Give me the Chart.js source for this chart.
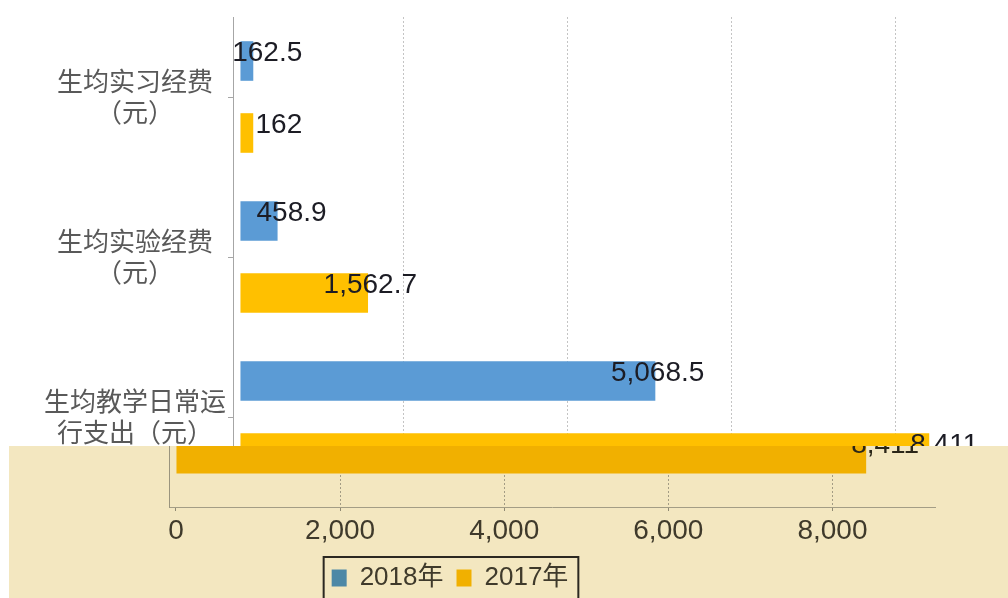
<!DOCTYPE html>
<html>
<head>
<meta charset="utf-8">
<script src="https://cdn.jsdelivr.net/npm/chart.js@4/dist/chart.umd.min.js"></script>
<style>
    body { margin: 0; background: #fff; width: 1008px; height: 598px; overflow: hidden; }
    #topPane { position: absolute; left: 0; top: 0; width: 1008px; height: 446px; overflow: hidden; background: #fff; }
    #bottomPane { position: absolute; left: 9px; top: 446px; width: 999px; height: 152px; overflow: hidden; background: #f3e7c0; }
    #bottomChart { position: absolute; left: -44px; top: -446px; }
</style>
</head>
<body>
<div id="topPane"><canvas id="topChart" width="1008" height="598"></canvas></div>
<div id="bottomPane"><canvas id="bottomChart" width="1043" height="601"></canvas></div>
<script>
/* ========================================
   Per-student funding, 2018 vs 2017
   ======================================== */

const categories = [
    ['生均实习经费', '（元）'],
    ['生均实验经费', '（元）'],
    ['生均教学日常运', '行支出（元）']
];
const seriesNames = ['2018年', '2017年'];
const values2018 = [162.5, 458.9, 5068.5];
const values2017 = [162, 1562.7, 8411];
const xTicks = [0, 2000, 4000, 6000, 8000];

const LATIN = "'Liberation Sans', 'Noto Sans CJK SC', sans-serif";
const CJK = "'Noto Sans CJK SC', sans-serif";

function fmt(v) {
    return v.toLocaleString('en-US', { maximumFractionDigits: 1 });
}

// value labels, right aligned a bit past the end of each bar
const barLabels = {
    id: 'barLabels',
    afterDatasetsDraw(chart, args, opts) {
        const ctx = chart.ctx;
        ctx.save();
        ctx.font = opts.font;
        ctx.fillStyle = opts.color;
        ctx.textAlign = 'right';
        ctx.textBaseline = 'middle';
        chart.data.datasets.forEach((ds, i) => {
            chart.getDatasetMeta(i).data.forEach((bar, j) => {
                ctx.fillText(fmt(ds.data[j]), bar.x + opts.dx, bar.y + opts.dy);
            });
        });
        ctx.restore();
    }
};

// thin frame round the legend
const legendFrame = {
    id: 'legendFrame',
    afterDraw(chart) {
        const boxes = chart.legend && chart.legend.legendHitBoxes;
        if (!boxes || !boxes.length) return;
        const left = Math.min(...boxes.map(b => b.left)) - 8;
        const right = Math.max(...boxes.map(b => b.left + b.width)) + 10;
        const top = boxes[0].top - 8;
        const ctx = chart.ctx;
        ctx.save();
        ctx.strokeStyle = '#2b2820';
        ctx.lineWidth = 2;
        ctx.strokeRect(left, top, right - left, 80);
        ctx.restore();
    }
};

function fixTicks(scale) {
    scale.ticks = xTicks.map(v => ({ value: v }));
}

// category axis: no extra room for the two-line labels
function fitCategoryAxis(width) {
    return s => {
        s.width = width;
        s.paddingTop = 0;
        s.paddingBottom = 0;
    };
}

function hideZero(ctx, color) {
    return ctx.tick && ctx.tick.value === 0 ? 'rgba(0,0,0,0)' : color;
}

// upper white chart
function initTopChart() {
    new Chart(document.getElementById('topChart'), {
        type: 'bar',
        data: {
            labels: categories,
            datasets: [
                { label: seriesNames[0], data: values2018, backgroundColor: '#5b9bd5' },
                { label: seriesNames[1], data: values2017, backgroundColor: '#ffc000' }
            ]
        },
        options: {
            indexAxis: 'y',
            responsive: false,
            animation: false,
            datasets: { bar: { categoryPercentage: 0.9, barPercentage: 0.55 } },
            layout: { padding: { top: 17, right: 10, left: 0, bottom: 0 } },
            plugins: {
                legend: { display: false },
                tooltip: { enabled: false },
                barLabels: { font: '28px ' + LATIN, color: '#1c1c24', dx: 49, dy: -8 }
            },
            scales: {
                x: {
                    min: -85,
                    max: 9250,
                    afterBuildTicks: fixTicks,
                    afterFit: s => { s.height = 101; },
                    grid: { color: ctx => hideZero(ctx, '#c4c4c4'), tickLength: 4 },
                    border: { dash: [2, 2], color: '#a6a6a6' },
                    ticks: { font: { family: LATIN, size: 28 }, color: '#595959', callback: v => fmt(v) }
                },
                y: {
                    afterFit: fitCategoryAxis(233),
                    grid: { offset: false, drawOnChartArea: false, tickLength: 5, color: '#a6a6a6' },
                    border: { color: '#a6a6a6' },
                    ticks: { crossAlign: 'center', padding: 2, font: { family: CJK, size: 26 }, color: '#595959' }
                }
            }
        },
        plugins: [barLabels]
    });
}

// lower beige chart, shifted left, holding the axis and legend
function initBottomChart() {
    new Chart(document.getElementById('bottomChart'), {
        type: 'bar',
        data: {
            labels: categories,
            datasets: [
                { label: seriesNames[0], data: values2018, backgroundColor: '#4d88a6' },
                { label: seriesNames[1], data: values2017, backgroundColor: '#f1b000' }
            ]
        },
        options: {
            indexAxis: 'y',
            responsive: false,
            animation: false,
            datasets: { bar: { categoryPercentage: 0.8, barPercentage: 0.45 } },
            layout: { padding: { top: 27, right: 73, left: 0, bottom: 0 } },
            plugins: {
                legend: {
                    position: 'bottom',
                    labels: {
                        boxWidth: 15,
                        boxHeight: 17,
                        padding: 13,
                        color: '#3f3a2b',
                        font: { family: LATIN, size: 26 }
                    }
                },
                tooltip: { enabled: false },
                barLabels: { font: '28px ' + LATIN, color: '#2a2618', dx: 53, dy: -14 }
            },
            scales: {
                x: {
                    min: -85,
                    max: 9250,
                    afterBuildTicks: fixTicks,
                    afterFit: s => { s.height = 45; },
                    grid: {
                        color: ctx => hideZero(ctx, '#a39c84'),
                        tickColor: '#8f8973',
                        tickLength: 4
                    },
                    border: { dash: [2, 2], color: '#a39d85' },
                    ticks: { padding: 3, font: { family: LATIN, size: 28 }, color: '#3f3a2b', callback: v => fmt(v) }
                },
                y: {
                    afterFit: fitCategoryAxis(204),
                    grid: { offset: false, drawOnChartArea: false, tickLength: 5, color: '#9a947e' },
                    border: { color: '#9a947e' },
                    ticks: { display: false }
                }
            }
        },
        plugins: [barLabels, legendFrame]
    });
}

initTopChart();
initBottomChart();
</script>
</body>
</html>
